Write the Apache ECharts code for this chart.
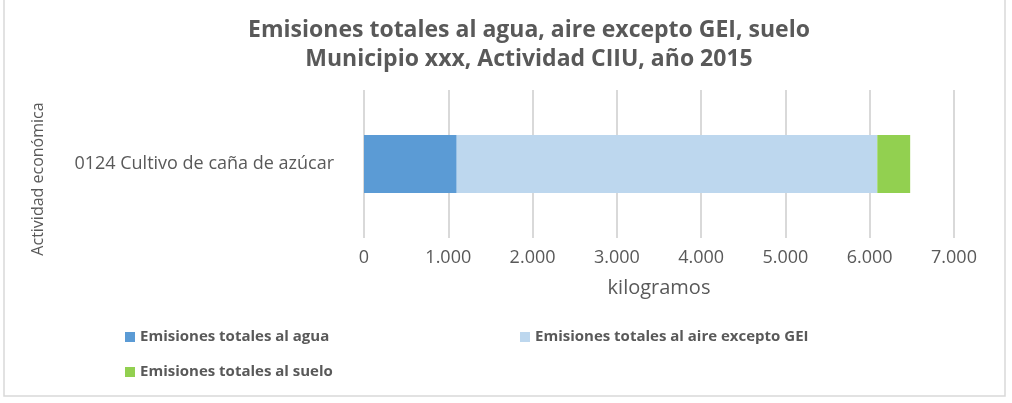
<!DOCTYPE html>
<html>
<head>
<meta charset="utf-8">
<script src="https://cdn.jsdelivr.net/npm/echarts@6/dist/echarts.min.js"></script>
<style>
  html, body { margin: 0; padding: 0; background: #fff; }
  #main { width: 1012px; height: 403px; }
</style>
</head>
<body>
<div id="main"></div>
<script>
// datos
var categorias = ['0124 Cultivo de caña de azúcar'];
var seriesNombres = ['Emisiones totales al agua', 'Emisiones totales al aire excepto GEI', 'Emisiones totales al suelo'];
var agua = [1100];
var aire = [4990];
var suelo = [390];
var colores = ['#5b9bd5', '#bdd7ee', '#92d050'];

var fuente = 'Open Sans';
var gris = '#595959';

var myChart = echarts.init(document.getElementById('main'));

function miles(v) {
    return String(v).replace(/\B(?=(\d{3})+(?!\d))/g, '.');
}

var option = {
    animation: false,
    title: {
        text: 'Emisiones totales al agua, aire excepto GEI, suelo\nMunicipio xxx, Actividad CIIU, año 2015',
        left: 524,
        textAlign: 'center',
        top: 11,
        textStyle: {
            fontFamily: fuente,
            fontSize: 23,
            fontWeight: 'bold',
            color: gris,
            lineHeight: 29
        }
    },
    color: colores,
    legend: {
        left: 120,
        top: 322,
        width: 820,
        itemWidth: 10,
        itemHeight: 10,
        itemGap: 15,
        icon: 'rect',
        data: seriesNombres,
        textStyle: {
            fontFamily: fuente,
            fontSize: 15,
            fontWeight: 'bold',
            color: gris,
            width: 365,
            lineHeight: 20
        }
    },
    grid: {
        left: 364,
        right: 58,
        top: 90,
        bottom: 165
    },
    xAxis: {
        type: 'value',
        min: 0,
        max: 7000,
        interval: 1000,
        name: 'kilogramos',
        nameLocation: 'middle',
        nameGap: 40,
        nameTextStyle: { fontFamily: fuente, fontSize: 20, color: gris },
        axisLine: { show: false },
        axisTick: { show: false },
        axisLabel: {
            fontFamily: fuente,
            fontSize: 18,
            color: gris,
            margin: 11,
            formatter: miles
        },
        splitLine: { lineStyle: { color: '#d9d9d9', width: 2 } }
    },
    yAxis: {
        type: 'category',
        data: categorias,
        axisLine: { show: false },
        axisTick: { show: false },
        axisLabel: {
            fontFamily: fuente,
            fontSize: 18,
            color: gris,
            margin: 30
        }
    },
    graphic: [
        {
            type: 'rect',
            shape: { x: 4, y: -2, width: 1001, height: 398 },
            style: { fill: 'none', stroke: '#d9d9d9', lineWidth: 1.5 },
            silent: true
        },
        {
            type: 'text',
            x: 38,
            y: 179,
            rotation: Math.PI / 2,
            style: {
                text: 'Actividad económica',
                fontFamily: fuente,
                fontSize: 16,
                fill: gris,
                textAlign: 'center',
                textVerticalAlign: 'middle'
            }
        }
    ],
    series: [
        {
            name: seriesNombres[0],
            type: 'bar',
            stack: 'total',
            barWidth: 58,
            data: agua
        },
        {
            name: seriesNombres[1],
            type: 'bar',
            stack: 'total',
            data: aire
        },
        {
            name: seriesNombres[2],
            type: 'bar',
            stack: 'total',
            data: suelo
        }
    ]
};

myChart.setOption(option);
</script>
</body>
</html>
